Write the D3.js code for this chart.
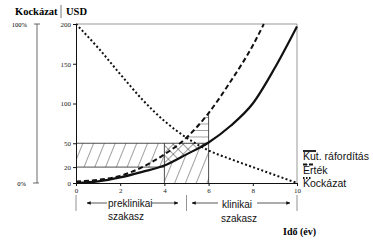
<!DOCTYPE html>
<html><head><meta charset="utf-8">
<script src="https://cdn.jsdelivr.net/npm/d3@7"></script>
<style>body{margin:0;background:#fff}</style>
</head><body>
<script>
// ---- data ----
const years = [0,1,2,3,4,5,6,7,8,9,10];
const expenditure = [0,2,7,14,22,36,51,72,100,145,197];      // Kut. ráfordítás (solid)
const valueYears = [0,1,2,3,4,5,6,7,8,8.5];
const value = [2,4,9,20,36,57,88,128,173,200];                // Érték (dashed)
const risk = [200,170,137,105,78,57,41,30,20,10,0];           // Kockázat (dotted)
const yTicks = [0,20,50,100,150,200];
const xTicks = [0,2,4,6,8,10];
const hatchLevels = [20,50];
const hatchYears = [4,6];
const phaseBounds = [0,5,10];
const phaseNames = [["preklinikai","szakasz"],["klinikai","szakasz"]];
const legendNames = ["Kut. ráfordítás","Érték","Kockázat"];
const riskTicks = ["100%","0%"];

const W=373,H=244;
const svg=d3.select("body").append("svg").attr("width",W).attr("height",H);
const x=d3.scaleLinear().domain([0,10]).range([76,297]);
const y=d3.scaleLinear().domain([0,200]).range([183,24]);

const defs=svg.append("defs");
function linePattern(id,size,angle,extra){
  const p=defs.append("pattern").attr("id",id).attr("patternUnits","userSpaceOnUse")
    .attr("width",size).attr("height",size).attr("patternTransform",`rotate(${angle})`);
  p.append("line").attr("x1",0).attr("y1",0).attr("x2",0).attr("y2",size).attr("stroke","#111").attr("stroke-width",0.8);
  if(extra) p.append("line").attr("x1",0).attr("y1",0).attr("x2",size).attr("y2",0).attr("stroke","#111").attr("stroke-width",0.8);
}
linePattern("diag",10,22,false);
linePattern("cross",7,45,true);
const hp=defs.append("pattern").attr("id","horiz").attr("patternUnits","userSpaceOnUse").attr("width",6).attr("height",6.5);
hp.append("line").attr("x1",0).attr("y1",0).attr("x2",6).attr("y2",0).attr("stroke","#111").attr("stroke-width",0.8);

const curve=d3.curveMonotoneX;
const solidPts=years.map((d,i)=>[d,expenditure[i]]);
const dashPts=valueYears.map((d,i)=>[d,value[i]]);
const dotPts=years.map((d,i)=>[d,risk[i]]);

// clip paths
defs.append("clipPath").attr("id","underSolid").append("path")
  .attr("d",d3.area().curve(curve).x(d=>x(d[0])).y0(y(0)).y1(d=>y(d[1]))(solidPts));
defs.append("clipPath").attr("id","overSolid").append("path")
  .attr("d",d3.area().curve(curve).x(d=>x(d[0])).y0(y(200)).y1(d=>y(d[1]))(solidPts));
defs.append("clipPath").attr("id","underDash").append("path")
  .attr("d",d3.area().curve(curve).x(d=>x(d[0])).y0(y(0)).y1(d=>y(d[1]))(dashPts));

const [lo,hi]=hatchLevels, [xa,xb]=hatchYears;
// R1: rectangle 0..4, 20..50
svg.append("rect").attr("x",x(0)).attr("y",y(hi)).attr("width",x(xa)-x(0)).attr("height",y(lo)-y(hi)).attr("fill","url(#diag)");
// R2: under solid, 4..6
svg.append("g").attr("clip-path","url(#underSolid)").append("rect")
  .attr("x",x(xa)).attr("y",y(hi)).attr("width",x(xb)-x(xa)).attr("height",y(0)-y(hi)).attr("fill","url(#diag)");
// R3: above solid up to 50
svg.append("g").attr("clip-path","url(#overSolid)").append("rect")
  .attr("x",x(xa)).attr("y",y(hi)).attr("width",x(xb)-x(xa)).attr("height",y(0)-y(hi)).attr("fill","url(#cross)");
// R4: above 50 under dashed
svg.append("g").attr("clip-path","url(#underDash)").append("rect")
  .attr("x",x(xa)).attr("y",y(200)).attr("width",x(xb)-x(xa)).attr("height",y(hi)-y(200)).attr("fill","url(#horiz)");

// guide lines
const g=svg.append("g").attr("stroke","#222").attr("stroke-width",0.8);
g.append("line").attr("x1",x(0)).attr("x2",x(xb)).attr("y1",y(hi)).attr("y2",y(hi));
g.append("line").attr("x1",x(0)).attr("x2",x(xa)).attr("y1",y(lo)).attr("y2",y(lo));
g.append("line").attr("x1",x(xa)).attr("x2",x(xa)).attr("y1",y(0)).attr("y2",y(hi));
const dashAt6 = value[valueYears.indexOf(6)];
g.append("line").attr("x1",x(xb)).attr("x2",x(xb)).attr("y1",y(0)).attr("y2",y(dashAt6));

// frame
svg.append("line").attr("x1",x(0)).attr("x2",x(10)).attr("y1",y(200)).attr("y2",y(200)).attr("stroke","#999").attr("stroke-width",1);
svg.append("line").attr("x1",x(10)).attr("x2",x(10)).attr("y1",y(200)).attr("y2",y(0)).attr("stroke","#999").attr("stroke-width",1);

// axes
const ax=svg.append("g").attr("transform",`translate(${x(0)},0)`)
  .call(d3.axisLeft(y).tickValues(yTicks).tickSize(3).tickPadding(2));
const bx=svg.append("g").attr("transform",`translate(0,${y(0)})`)
  .call(d3.axisBottom(x).tickValues(xTicks).tickSize(3).tickPadding(2));
[ax,bx].forEach(a=>{a.selectAll("text").attr("font-family","Liberation Serif").attr("font-size",7).attr("fill","#222");
  a.select(".domain").attr("stroke","#111");a.selectAll(".tick line").attr("stroke","#111");});

// curves
const line=d3.line().curve(curve).x(d=>x(d[0])).y(d=>y(d[1]));
svg.append("path").attr("d",line(dotPts)).attr("fill","none").attr("stroke","#111").attr("stroke-width",2).attr("stroke-dasharray","2,2.3");
svg.append("path").attr("d",line(dashPts)).attr("fill","none").attr("stroke","#111").attr("stroke-width",2).attr("stroke-dasharray","5,3");
svg.append("path").attr("d",line(solidPts)).attr("fill","none").attr("stroke","#111").attr("stroke-width",2.2);

// risk axis
svg.append("line").attr("x1",37).attr("x2",37).attr("y1",y(200)).attr("y2",y(0)).attr("stroke","#444").attr("stroke-width",0.8);
svg.append("line").attr("x1",34).attr("x2",40).attr("y1",y(200)).attr("y2",y(200)).attr("stroke","#444").attr("stroke-width",0.8);
svg.append("line").attr("x1",33).attr("x2",39).attr("y1",y(0)).attr("y2",y(0)).attr("stroke","#444").attr("stroke-width",0.8);
svg.append("text").attr("x",27).attr("y",y(200)+2.5).attr("text-anchor","end").attr("font-family","Liberation Serif").attr("font-size",6.5).text(riskTicks[0]);
svg.append("text").attr("x",26).attr("y",y(0)+2.5).attr("text-anchor","end").attr("font-family","Liberation Serif").attr("font-size",6.5).text(riskTicks[1]);

// header
svg.append("text").attr("x",15).attr("y",15).attr("font-family","Liberation Serif").attr("font-weight","bold").attr("font-size",10.5).text("Kockázat");
svg.append("line").attr("x1",61).attr("x2",61).attr("y1",5).attr("y2",18).attr("stroke","#555").attr("stroke-width",0.8);
svg.append("text").attr("x",66).attr("y",15).attr("font-family","Liberation Serif").attr("font-weight","bold").attr("font-size",10.5).text("USD");
svg.append("text").attr("x",283).attr("y",235).attr("font-family","Liberation Serif").attr("font-weight","bold").attr("font-size",10).text("Idő (év)");

// legend
const dashes=[null,"4,2","1.5,1.5"];
legendNames.forEach((n,i)=>{
  const by=160+i*13.5;
  svg.append("line").attr("x1",303).attr("x2",316-i*2).attr("y1",by-9).attr("y2",by-9).attr("stroke","#111").attr("stroke-width",1.8).attr("stroke-dasharray",dashes[i]);
  svg.append("text").attr("x",303).attr("y",by).attr("font-family","Liberation Sans").attr("font-size",10.5).attr("fill","#111").text(n);
});

// phases
defs.append("marker").attr("id","arr").attr("viewBox","0 0 10 10").attr("refX",9).attr("refY",5)
  .attr("markerWidth",6).attr("markerHeight",6).attr("orient","auto-start-reverse")
  .append("path").attr("d","M0,1L10,5L0,9z").attr("fill","#111");
phaseBounds.forEach(b=>svg.append("line").attr("x1",x(b)).attr("x2",x(b)).attr("y1",195).attr("y2",211).attr("stroke","#777").attr("stroke-width",0.8));
const arrows=[[107,87],[152,178],[218,192],[257,290]];
arrows.forEach(a=>svg.append("line").attr("x1",a[0]).attr("x2",a[1]).attr("y1",203).attr("y2",203).attr("stroke","#111").attr("stroke-width",0.7).attr("marker-end","url(#arr)"));
const px=[[108,108],[222,221]], pyy=[[207,220],[208,222]];
phaseNames.forEach((p,i)=>p.forEach((t,j)=>svg.append("text").attr("x",px[i][j]).attr("y",pyy[i][j]).attr("font-family","Liberation Sans").attr("font-size",10).attr("fill","#111").text(t)));
</script>
</body></html>
